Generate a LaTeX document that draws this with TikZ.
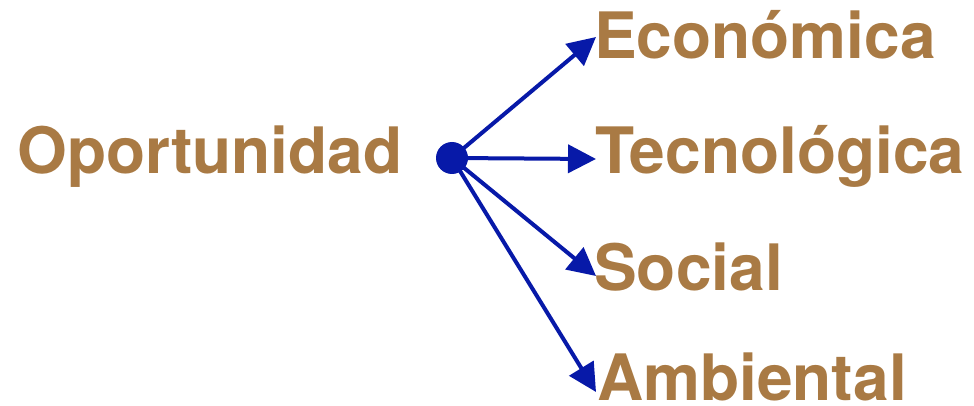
\documentclass[tikz,border=0pt]{standalone}
\usepackage{fontspec}
\setmainfont{TeX Gyre Heros}
\usetikzlibrary{arrows.meta}
\definecolor{ocre}{HTML}{A97A44}
\definecolor{azul}{HTML}{0719A8}

\begin{document}
\begin{tikzpicture}[x=0.75pt,y=-0.75pt,
   rotulo/.style={anchor=base west,inner sep=0pt,text=ocre,font=\fontsize{48}{52}\selectfont\bfseries},
   flecha/.style={azul,line width=3pt,-{Triangle[length=21pt,width=21pt]}}]
   \useasboundingbox (0,0) rectangle (974,406);
   \node[rotulo] (oport) at (17,174) {Oportunidad};
   \node[circle,fill=azul,inner sep=0pt,minimum size=24pt] (centro) at (452,158) {};
   % las cuatro dimensiones
   \node[rotulo] (econ) at (594,59) {Económica};
   \node[rotulo] (tecno) at (595,174) {Tecnológica};
   \node[rotulo] (soc) at (594,290) {Social};
   \node[rotulo] (amb) at (597,400) {Ambiental};
   \coordinate (pEcon) at (596,37);
   \coordinate (pTecno) at (596,159);
   \coordinate (pSoc) at (596,276);
   \coordinate (pAmb) at (596,392);
   \draw[flecha] (centro.center) -- (pEcon);
   \draw[flecha] (centro.center) -- (pTecno);
   \draw[flecha] (centro.center) -- (pSoc);
   \draw[flecha] (centro.center) -- (pAmb);
\end{tikzpicture}
\end{document}
